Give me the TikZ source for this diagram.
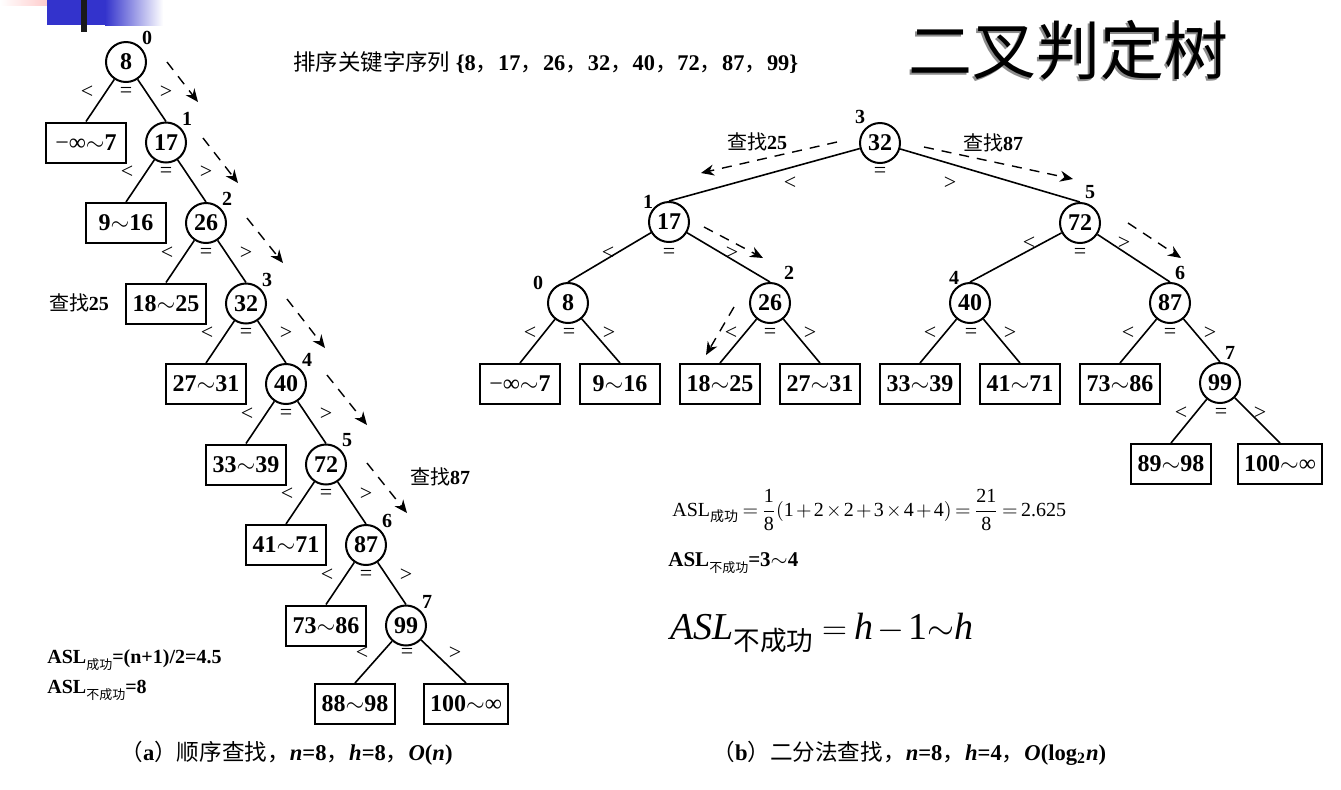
\documentclass[tikz,border=0pt]{standalone}
\usepackage{amsmath}
\usepackage{fontspec}
\setmainfont{Liberation Serif}
\newfontfamily\cjk{Noto Sans CJK SC}
\usetikzlibrary{arrows.meta}
\definecolor{slideblue}{RGB}{51,51,204}
\definecolor{slidepink}{RGB}{255,180,180}
\definecolor{barblack}{RGB}{26,26,26}
\definecolor{shadowgray}{RGB}{140,140,140}
\newcommand{\til}{\ensuremath{\mathord{\sim}}}
\newcommand{\minf}{{\mdseries −∞}}
\newcommand{\zh}[1]{{\cjk\mdseries #1}}
\newcommand{\lowzh}[2]{\raisebox{-#2}{\cjk\mdseries\fontsize{6.5}{7}\selectfont #1}}

\begin{document}
\begin{tikzpicture}[x=0.5pt, y=-0.5pt, >=Stealth,
  keynode/.style={circle, draw, line width=1pt, minimum size=20pt, inner sep=0pt,
    font=\bfseries\fontsize{12}{12}\selectfont},
  leafbox/.style={draw, line width=1pt, minimum width=40pt, minimum height=20pt,
    inner xsep=3pt, inner ysep=0pt, font=\bfseries\fontsize{12}{12}\selectfont},
  idx/.style={inner sep=0pt, font=\bfseries\fontsize{10}{10}\selectfont},
  rel/.style={inner sep=0pt, font=\fontsize{11}{11}\selectfont},
  edge/.style={line width=0.8pt},
  search/.style={->, line width=0.7pt, dash pattern=on 5pt off 4pt,
    -{Stealth[length=6.5pt,width=5.5pt]}},
  note/.style={inner sep=0pt, font=\bfseries\fontsize{10}{12}\selectfont}]
  \useasboundingbox (0,0) rectangle (1341,789);
  % slide corner
  \shade[left color=white, right color=slidepink] (0,0) rectangle (70,5);
  \fill[slideblue] (47,0) rectangle (105,25);
  \shade[left color=slideblue, right color=white] (105,0) rectangle (163,25);
  \fill[barblack] (81,0) rectangle (87,32);
  % title
  \node[inner sep=0pt, text=shadowgray, font=\cjk\fontsize{32}{32}\selectfont] (titleshadow) at (1066,52) {二叉判定树};
  \node[inner sep=0pt, font=\cjk\fontsize{32}{32}\selectfont] (title) at (1068,50) {二叉判定树};
  \node[anchor=west, inner sep=0pt, font=\bfseries\fontsize{11.2}{12}\selectfont] (keys) at (293,63)
    {\zh{排序关键字序列} \{8\zh{，}17\zh{，}26\zh{，}32\zh{，}40\zh{，}72\zh{，}87\zh{，}99\}};

  % (a) sequential search
  \foreach \v [count=\i from 0] in {8,17,26,32,40,72,87,99}{
    \node[keynode] (a\i) at ({126+40*\i},{62+80.5*\i}) {\v};
    \node[idx] (ai\i) at ({147+40*\i},{38+80.5*\i}) {\i};
  }
  \foreach \lf [count=\i from 0] in {{\minf\til7},{9\til16},{18\til25},{27\til31},{33\til39},{41\til71},{73\til86}}
    \node[leafbox] (al\i) at ({86+40*\i},{142.5+80.5*\i}) {\lf};
  \node[leafbox] (al7) at (355,704) {88\til98};
  \node[leafbox] (al8) at (466,704) {100\til{\mdseries ∞}};
  \foreach \i [evaluate=\i as \j using int(\i+1)] in {0,...,6}{
    \draw[edge] (a\i) -- (al\i.north);
    \draw[edge] (a\i) -- (a\j.north);
    \node[rel] (alt\i) at ({87+40*\i},{92+80.5*\i}) {<};
    \node[rel] (aeq\i) at ({126+40*\i},{92+80.5*\i}) {=};
    \node[rel] (agt\i) at ({166+40*\i},{92+80.5*\i}) {>};
  }
  \draw[edge] (a7) -- (al7.north);
  \draw[edge] (a7) -- (al8.north);
  \node[rel] (alt7) at (362,653) {<};
  \node[rel] (aeq7) at (407,653) {=};
  \node[rel] (agt7) at (455,653) {>};
  % search path
  \foreach \sx/\sy/\tx/\ty [count=\k] in {167/62/198/102, 203/138/238/183, 247/218/283/263,
      287/299/325/348, 327/375/367/425, 367/463/407/513}{
    \coordinate (as\k) at (\sx,\sy);
    \coordinate (at\k) at (\tx,\ty);
    \draw[search] (as\k) -- (at\k);
  }
  \node[note] (afind25) at (79,303) {\zh{查找}25};
  \node[note] (afind87) at (440,477) {\zh{查找}87};
  \node[note, anchor=west] (asl1) at (47,660) {ASL\lowzh{成功}{3pt}=(n+1)/2=4.5};
  \node[note, anchor=west] (asl2) at (47,690) {ASL\lowzh{不成功}{3pt}=8};
  \node[anchor=west, inner sep=0pt, font=\fontsize{11.3}{12}\selectfont] (acap) at (120,753)
    {\zh{（}\textbf{a}\zh{）顺序查找，}\textbf{\textit{n}=8}\zh{，}\textbf{\textit{h}=8}\zh{，}\textbf{\textit{O}(\textit{n})}};

  % (b) binary search
  \foreach \v/\x/\y in {32/880/143, 17/669/222, 72/1080/223, 8/568/303, 26/770/303,
      40/970/303, 87/1170/303, 99/1220/383}
    \node[keynode] (b\v) at (\x,\y) {\v};
  \foreach \n/\x/\y in {3/860/117, 1/648/202, 5/1090/192, 0/538/283, 2/789/273,
      4/954/278, 6/1180/273, 7/1230/353}
    \node[idx] (bi\n) at (\x,\y) {\n};
  \foreach \k/\x/\y/\lf in {1/520/384/{\minf\til7}, 2/620/384/{9\til16}, 3/720/384/{18\til25},
      4/820/384/{27\til31}, 5/920/384/{33\til39}, 6/1020/384/{41\til71}, 7/1120/384/{73\til86},
      8/1171/464/{89\til98}, 9/1280/464/{100\til{\mdseries ∞}}}
    \node[leafbox] (bl\k) at (\x,\y) {\lf};
  \foreach \p/\c in {32/17, 32/72, 17/8, 17/26, 72/40, 72/87, 87/99}
    \draw[edge] (b\p) -- (b\c.north);
  \foreach \p/\c in {8/1, 8/2, 26/3, 26/4, 40/5, 40/6, 87/7, 99/8, 99/9}
    \draw[edge] (b\p) -- (bl\c.north);
  \foreach \v/\lx/\ly/\ex/\ey/\gx/\gy in {32/790/183/880/172/950/183, 17/608/253/669/253/732/253,
      72/1029/243/1080/253/1124/243, 8/530/333/569/333/609/333, 26/731/333/770/333/810/333,
      40/930/333/971/333/1010/333, 87/1128/333/1170/333/1210/333, 99/1181/413/1221/413/1260/413}{
    \node[rel] (blt\v) at (\lx,\ly) {<};
    \node[rel] (beq\v) at (\ex,\ey) {=};
    \node[rel] (bgt\v) at (\gx,\gy) {>};
  }
  % search paths
  \foreach \sx/\sy/\tx/\ty [count=\k] in {837/142/701/173, 924/147/1073/179, 704/227/763/258,
      734/307/706/355, 1128/223/1181/258}{
    \coordinate (bs\k) at (\sx,\sy);
    \coordinate (bt\k) at (\tx,\ty);
    \draw[search] (bs\k) -- (bt\k);
  }
  \node[note] (bfind25) at (757,142) {\zh{查找}25};
  \node[note] (bfind87) at (993,143) {\zh{查找}87};
  % ASL
  \node[anchor=west, inner sep=0pt, font=\fontsize{10}{12}\selectfont] (bsl1) at (672,510)
    {\medmuskip=2mu\thickmuskip=3mu$\text{ASL}_{\text{\cjk 成功}}=\dfrac{\text{1}}{\text{8}}(\text{1}+\text{2}\times\text{2}+\text{3}\times\text{4}+\text{4})=\dfrac{\text{21}}{\text{8}}=\text{2.625}$};
  \node[note, anchor=west, font=\bfseries\fontsize{10.5}{12}\selectfont] (bsl2) at (668,563)
    {ASL\lowzh{不成功}{3pt}=3\til4};
  \node[anchor=west, inner sep=0pt, font=\fontsize{19}{22}\selectfont] (bsl3) at (670,633)
    {\medmuskip=2mu\thickmuskip=4mu$\mathit{ASL}_{\text{\cjk 不成功}}=\mathit{h}-\text{1}\mathord{\sim}\mathit{h}$};
  \node[anchor=west, inner sep=0pt, font=\fontsize{11.3}{12}\selectfont] (bcap) at (712,753)
    {\zh{（}\textbf{b}\zh{）二分法查找，}\textbf{\textit{n}=8}\zh{，}\textbf{\textit{h}=4}\zh{，}\textbf{\textit{O}(log\textsubscript{2}\textit{n})}};
\end{tikzpicture}
\end{document}
